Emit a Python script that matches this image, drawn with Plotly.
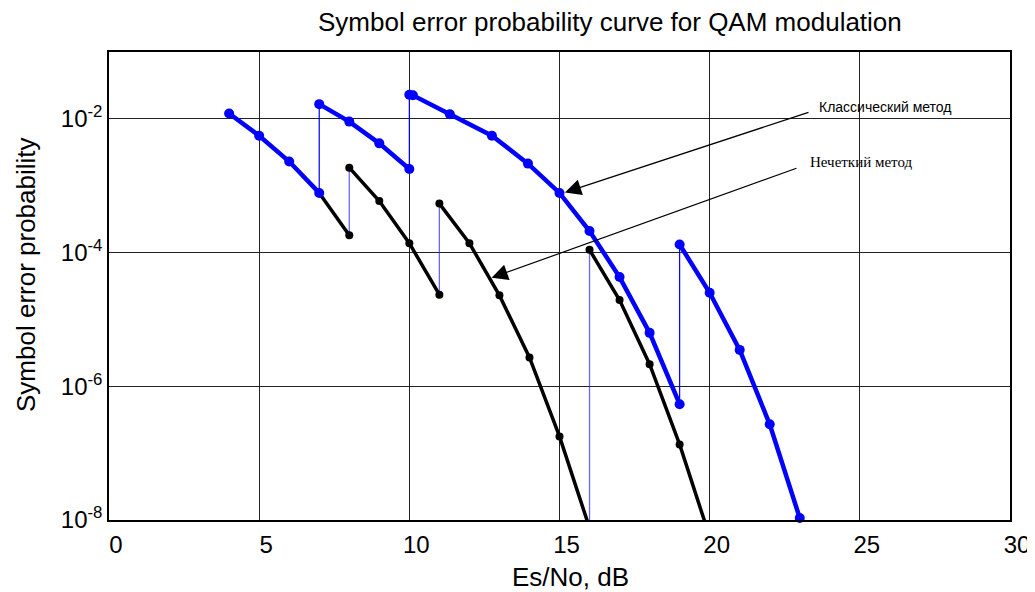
import plotly.graph_objects as go
import math

# ---- Data ----
# Classical method (blue), piecewise segments
cls_x1 = [4, 5, 6, 7]
cls_y1 = [1.2e-2, 5.6e-3, 2.3e-3, 7.8e-4]
cls_x2 = [7, 8, 9, 10]
cls_y2 = [1.66e-2, 9.1e-3, 4.3e-3, 1.78e-3]
cls_x3 = [10, 10.12, 11.35, 12.75, 13.95, 15, 16, 17, 18, 19]
cls_y3 = [2.29e-2, 2.25e-2, 1.17e-2, 5.6e-3, 2.14e-3, 7.8e-4, 2.1e-4, 4.3e-5, 6.3e-6, 5.4e-7]
cls_x4 = [19, 20, 21, 22, 23]
cls_y4 = [1.32e-4, 2.5e-5, 3.5e-6, 2.7e-7, 1.07e-8]

# Fuzzy method (black), piecewise segments
fz_x1 = [7, 8]
fz_y1 = [7.8e-4, 1.82e-4]
fz_x2 = [8, 9, 10, 11]
fz_y2 = [1.86e-3, 5.9e-4, 1.38e-4, 2.34e-5]
fz_x3 = [11, 12, 13, 14, 15, 16]
fz_y3 = [5.4e-4, 1.38e-4, 2.29e-5, 2.7e-6, 1.78e-7, 7.6e-9]
fz_x4 = [16, 17, 18, 19, 20]
fz_y4 = [1.1e-4, 1.95e-5, 2.14e-6, 1.35e-7, 5.6e-9]

x_ticks = [0, 5, 10, 15, 20, 25, 30]
y_ticks = [1e-8, 1e-6, 1e-4, 1e-2]
y_ticktext = ["10<sup>-8</sup>", "10<sup>-6</sup>", "10<sup>-4</sup>", "10<sup>-2</sup>"]

title_text = "Symbol error probability curve for QAM modulation"
label_classic = "Классический метод"
label_fuzzy = "Нечеткий метод"

# ---- Figure ----
BLUE = "#0000ff"
fig = go.Figure()

cls_segs = [(cls_x1, cls_y1), (cls_x2, cls_y2), (cls_x3, cls_y3), (cls_x4, cls_y4)]
fz_segs = [(fz_x1, fz_y1), (fz_x2, fz_y2), (fz_x3, fz_y3), (fz_x4, fz_y4)]

# thin vertical connectors (jumps between segments)
for a, b in zip(cls_segs[:-1], cls_segs[1:]):
    fig.add_trace(go.Scatter(x=[a[0][-1], b[0][0]], y=[a[1][-1], b[1][0]], mode="lines",
                             line=dict(color=BLUE, width=1.2), showlegend=False, hoverinfo="skip"))
for a, b in zip(fz_segs[:-1], fz_segs[1:]):
    fig.add_trace(go.Scatter(x=[a[0][-1], b[0][0]], y=[a[1][-1], b[1][0]], mode="lines",
                             line=dict(color="rgba(40,40,255,0.7)", width=1.3), showlegend=False,
                             hoverinfo="skip"))

for sx, sy in fz_segs:
    fig.add_trace(go.Scatter(x=sx, y=sy, mode="lines+markers",
                             line=dict(color="black", width=3.5),
                             marker=dict(color="black", size=8),
                             showlegend=False))
for i, (sx, sy) in enumerate(cls_segs):
    fig.add_trace(go.Scatter(x=sx, y=sy, mode="lines+markers",
                             line=dict(color=BLUE, width=4.5),
                             marker=dict(color=BLUE, size=10),
                             cliponaxis=(i != 3),
                             showlegend=False))

FONT = "Arial, Liberation Sans, sans-serif"

# plot area in page pixels: left 109, top 52, width 901, height 468
def px_x(p):
    return (p - 109) / 901

def px_y(p):
    return (520 - p) / 468

annotations = [
    # arrows
    dict(x=15.18, y=-3.10, ax=23.34, ay=-1.896, xref="x", yref="y",
         axref="x", ayref="y", text="", showarrow=True, arrowhead=2, arrowsize=2.7,
         arrowwidth=1.2, arrowcolor="black", standoff=0, startstandoff=0),
    dict(x=12.74, y=-4.378, ax=22.94, ay=-2.731, xref="x", yref="y",
         axref="x", ayref="y", text="", showarrow=True, arrowhead=2, arrowsize=2.7,
         arrowwidth=1.2, arrowcolor="black", standoff=0, startstandoff=0),
    dict(x=23.58, y=-1.82, xref="x", yref="y", text=label_classic, showarrow=False,
         xanchor="left", yanchor="middle",
         font=dict(family="Liberation Sans", size=14, color="black")),
    dict(x=23.28, y=-2.64, xref="x", yref="y", text=label_fuzzy, showarrow=False,
         xanchor="left", yanchor="middle",
         font=dict(family="Liberation Serif, Times New Roman, serif", size=15, color="black")),
    # title
    dict(x=px_x(610), y=px_y(22), xref="paper", yref="paper", text=title_text,
         showarrow=False, xanchor="center", yanchor="middle",
         font=dict(family=FONT, size=26, color="black")),
    # axis titles
    dict(x=px_x(26), y=px_y(275), xref="paper", yref="paper", text="Symbol error probability",
         showarrow=False, textangle=-90, xanchor="center", yanchor="middle",
         font=dict(family=FONT, size=26, color="black")),
    dict(x=px_x(570), y=px_y(577), xref="paper", yref="paper", text="Es/No, dB",
         showarrow=False, xanchor="center", yanchor="middle",
         font=dict(family=FONT, size=26, color="black")),
]

# the page body adds an 8px offset, so margins are compensated
fig.update_layout(
    width=1035, height=592,
    margin=dict(l=101, r=33, t=44, b=80),
    paper_bgcolor="white", plot_bgcolor="white",
    font=dict(family=FONT, size=24, color="black"),
    annotations=annotations,
    showlegend=False,
)
fig.update_xaxes(range=[0, 30], tickvals=x_ticks, ticks="", showgrid=True,
                 gridcolor="#222222", gridwidth=1, zeroline=False,
                 showline=True, linecolor="black", linewidth=1.5, mirror=True,
                 tickfont=dict(size=24), ticklabelshift=7, ticklabelstandoff=2)
fig.update_yaxes(type="log", range=[-8, -1], tickvals=y_ticks, ticktext=y_ticktext, ticks="",
                 showgrid=True, gridcolor="#222222", gridwidth=1, zeroline=False,
                 showline=True, linecolor="black", linewidth=1.5, mirror=True,
                 tickfont=dict(size=24))

fig.write_html("out.html")
